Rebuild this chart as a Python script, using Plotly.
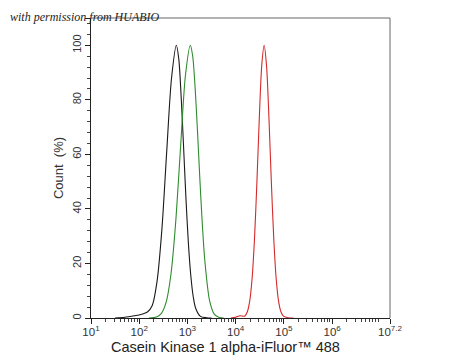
import plotly.graph_objects as go

# log10 intensity positions and Count (%) values
black_log = [1.5, 1.7, 1.9, 2.07, 2.17, 2.27, 2.37, 2.47, 2.57, 2.67, 2.77, 2.82, 2.87, 2.92, 2.97, 3.02, 3.07, 3.12, 3.17, 3.27, 3.4, 3.5]
black_pct = [0, 0.3, 0.8, 1.5, 2.2, 4.6, 13.5, 32.5, 61, 88, 100, 95, 81, 62.6, 43.5, 27.2, 15.4, 7.8, 3.6, 0.6, 0.1, 0]

green_log = [2.2, 2.36, 2.46, 2.56, 2.66, 2.76, 2.86, 2.96, 3.06, 3.11, 3.16, 3.21, 3.26, 3.31, 3.36, 3.46, 3.56, 3.66, 3.75]
green_pct = [0, 0.4, 1.7, 5.9, 16.3, 36, 63.5, 89.3, 100, 95.8, 84.1, 67.8, 50, 33.9, 21.1, 6.3, 1.3, 0.2, 0]

red_log = [3.9, 4.0, 4.09, 4.19, 4.24, 4.29, 4.34, 4.39, 4.44, 4.49, 4.54, 4.59, 4.64, 4.69, 4.74, 4.79, 4.84, 4.89, 4.94, 4.99, 5.09, 5.2]
red_pct = [0, 0.3, 0.8, 0.7, 2.2, 6.1, 14.4, 29, 49.8, 73.3, 92.5, 100, 92.5, 73.3, 49.8, 29, 14.4, 6.1, 2.2, 0.7, 0.1, 0]

x_tick_exp = [1, 2, 3, 4, 5, 6, 7.2]
x_tick_text = ["10<sup>1</sup>", "10<sup>2</sup>", "10<sup>3</sup>", "10<sup>4</sup>",
               "10<sup>5</sup>", "10<sup>6</sup>", "10<sup>7.2</sup>"]
y_tick_vals = [0, 20, 40, 60, 80, 100, 110]

fig = go.Figure()
for lg, pc, col in [(black_log, black_pct, "#1a1a1a"),
                    (green_log, green_pct, "#2e8b2e"),
                    (red_log, red_pct, "#d42a2a")]:
    fig.add_trace(go.Scatter(x=[10 ** v for v in lg], y=pc, mode="lines",
                             line=dict(color=col, width=1.1, shape="spline", smoothing=0.8),
                             showlegend=False, hoverinfo="skip"))

minor_x = [m * 10 ** d for d in range(1, 8) for m in range(2, 10) if m * 10 ** d < 10 ** 7.2]

# page body has an 8px margin, so the figure is drawn at (8, 8)
W, H = 442, 352
L, T, R, B = 83, 10, 60, 42
fig.update_layout(
    width=W, height=H,
    margin=dict(l=L, r=R, t=T, b=B, autoexpand=False),
    paper_bgcolor="white", plot_bgcolor="white",
    font=dict(family="Liberation Sans, Arial", color="#222"),
    xaxis=dict(type="log", range=[1, 7.2], showgrid=False, zeroline=False, automargin=False,
               showline=True, linecolor="#222", linewidth=1,
               ticks="outside", ticklen=5, tickcolor="#222", ticklabelstandoff=-2,
               tickmode="array", tickvals=[10 ** e for e in x_tick_exp], ticktext=x_tick_text,
               tickfont=dict(size=11.5, color="#333"),
               minor=dict(ticks="outside", ticklen=3, tickcolor="#444", tickmode="array",
                          tickvals=minor_x)),
    yaxis=dict(range=[0, 110], showgrid=False, zeroline=False, automargin=False,
               showline=True, linecolor="#222", linewidth=1,
               ticks="outside", ticklen=5, tickcolor="#222",
               tickmode="array", tickvals=y_tick_vals, tickangle=-90,
               tickfont=dict(size=11, color="#333"),
               title=dict(text="Count  (%)", font=dict(size=13, color="#333"), standoff=4),
               minor=dict(ticks="outside", ticklen=3, tickcolor="#444", dtick=4, tick0=0)),
)

# gray frame on top and right
fig.add_shape(type="line", xref="paper", yref="paper", x0=0, x1=1, y0=1, y1=1,
              line=dict(color="#666", width=1))
fig.add_shape(type="line", xref="paper", yref="paper", x0=1, x1=1, y0=0, y1=1,
              line=dict(color="#666", width=1))

PW, PH = W - L - R, H - T - B
fig.add_annotation(text="Casein Kinase 1 alpha-iFluor™ 488", xref="paper", yref="paper",
                   x=(225 - 8 - L) / PW, y=(H - B - (347 - 8)) / PH, xanchor="center", yanchor="middle",
                   showarrow=False, font=dict(size=14.5, color="#222"))
fig.add_annotation(text="<i>with permission from HUABIO</i>", xref="paper", yref="paper",
                   x=(0 - L) / PW, y=(H - B - (17 - 8)) / PH, xanchor="left", yanchor="middle",
                   showarrow=False, font=dict(size=12, family="Liberation Serif", color="#222"))

fig.write_html("out.html")
